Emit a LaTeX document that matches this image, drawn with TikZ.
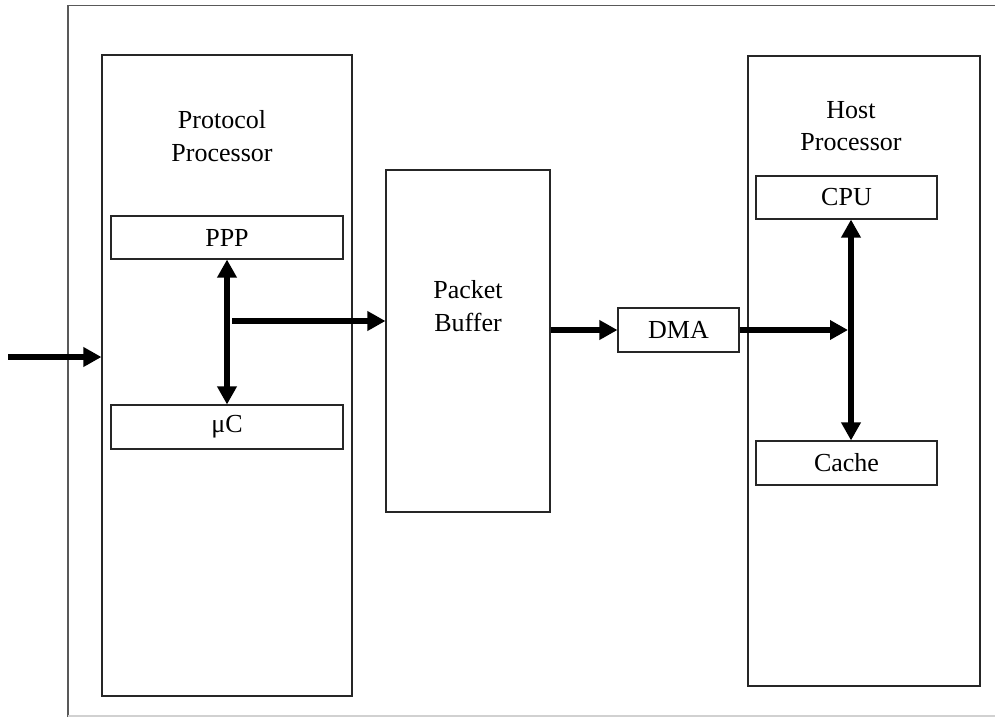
\documentclass[tikz,border=0pt]{standalone}
\usepackage{fontspec}
\setmainfont{Liberation Serif}
\usetikzlibrary{arrows.meta}
\begin{document}
\begin{tikzpicture}[x=0.75pt,y=-0.75pt,
  box/.style={draw=black!85, line width=0.8pt, rectangle, inner sep=0pt, font=\fontsize{19.5}{24.5}\selectfont},
  lbl/.style={align=center, inner sep=0pt, font=\fontsize{19.5}{24.5}\selectfont},
  bus/.style={line width=4.5pt, -{Triangle[length=13.5pt,width=14pt]}},
  dbus/.style={line width=4.5pt, {Triangle[length=13.5pt,width=14pt]}-{Triangle[length=13.5pt,width=14pt]}}]
\useasboundingbox (0,0) rectangle (995,717);
% outer frame
\draw[black!65, line width=0.9pt] (68,717) -- (68,5.5) -- (995,5.5);
\draw[black!18, line width=0.9pt] (68,716) -- (995,716);
% protocol processor
\node[box, minimum width=250*0.75pt, minimum height=641*0.75pt] (pp) at (227,375.5) {};
\node[lbl] (ppl) at (222,136) {Protocol\\Processor};
\node[box, minimum width=232*0.75pt, minimum height=43*0.75pt] (ppp) at (227,237.5) {PPP};
\node[box, minimum width=232*0.75pt, minimum height=44*0.75pt] (uc) at (227,427) {μC};
% packet buffer
\node[box, minimum width=164*0.75pt, minimum height=342*0.75pt] (pb) at (468,341) {};
\node[lbl] (pbl) at (468,306) {Packet\\Buffer};
% DMA
\node[box, minimum width=121*0.75pt, minimum height=44*0.75pt] (dma) at (678.5,330) {DMA};
% host processor
\node[box, minimum width=232*0.75pt, minimum height=630*0.75pt] (hp) at (864,371) {};
\node[lbl] (hpl) at (851,126) {Host\\Processor};
\node[box, minimum width=181*0.75pt, minimum height=43*0.75pt] (cpu) at (846.5,197.5) {CPU};
\node[box, minimum width=181*0.75pt, minimum height=44*0.75pt] (cache) at (846.5,463) {Cache};
% connectors
\coordinate (in) at (8,357);
\coordinate (j1) at (232,321);
\coordinate (j2) at (851,330);
\coordinate (j2e) at (848,330);
\draw[bus] (in) -- (in -| pp.west);
\draw[dbus] (ppp.south) -- (uc.north);
\draw[bus] (j1) -- (j1 -| pb.west);
\draw[bus] (pb.east |- dma.west) -- (dma.west);
\draw[bus] (dma.east) -- (j2e);
\draw[dbus] (j2 |- cpu.south) -- (j2 |- cache.north);
\end{tikzpicture}
\end{document}
